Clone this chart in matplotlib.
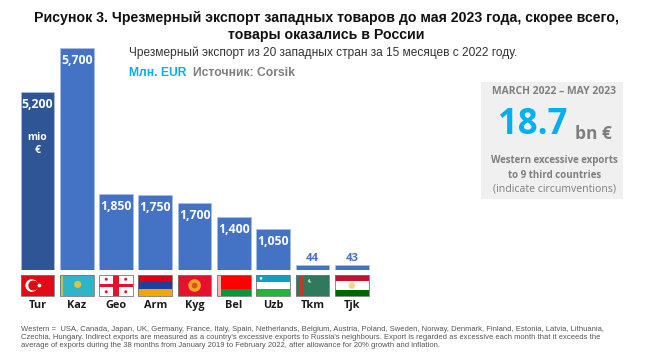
import matplotlib
matplotlib.use("Agg")
import matplotlib.pyplot as plt
from matplotlib.patches import Circle, Rectangle

W, H = 662, 354

codes = ["Tur", "Kaz", "Geo", "Arm", "Kyg", "Bel", "Uzb", "Tkm", "Tjk"]
value_labels = ["5,200", "5,700", "1,850", "1,750", "1,700", "1,400", "1,050", "44", "43"]
# drawn heights as they stand in the picture (the Tur bar is shorter than its label says)
bar_heights = [4570, 5700, 1950, 1925, 1730, 1360, 1060, 128, 128]

TITLE = "Рисунок 3. Чрезмерный экспорт западных товаров до мая 2023 года, скорее всего,\nтовары оказались в России"
SUBTITLE = "Чрезмерный экспорт из 20 западных стран за 15 месяцев с 2022 году."
FOOTNOTE = (
    "Western =  USA, Canada, Japan, UK, Germany, France, Italy, Spain, Netherlands, Belgium, Austria, Poland, Sweden, Norway, Denmark, Finland, Estonia, Latvia, Lithuania,\n"
    "Czechia, Hungary. Indirect exports are measured as a country's excessive exports to Russia's neighbours. Export is regarded as excessive each month that it exceeds the\n"
    "average of exports during the 38 months from January 2019 to February 2022, after allowance for 20% growth and inflation."
)

BLUE = "#4472C4"
DARK = "#2F5597"
CYAN = "#00B0F0"
GREY = "#7F7F7F"

plt.rcParams["font.family"] = ["Liberation Sans", "DejaVu Sans"]
LABEL_FONT = ["Open Sans", "DejaVu Sans"]

fig = plt.figure(figsize=(W / 100, H / 100), dpi=100, facecolor="white")

# overlay in pixel coordinates for text and flags
ov = fig.add_axes([0, 0, 1, 1])
ov.set_xlim(0, W)
ov.set_ylim(H, 0)
ov.axis("off")

# bars
pitch = 39.3
x_left, x_right = 37.4 - pitch / 2, 37.4 + 8.5 * pitch
y_base, y_top = 270, 48
ax = fig.add_axes([x_left / W, 1 - y_base / H, (x_right - x_left) / W, (y_base - y_top) / H])
ax.set_xlim(-0.5, 8.5)
ax.set_ylim(0, 5700)
ax.axis("off")
colors = [DARK] + [BLUE] * 8
bars = ax.bar(range(len(codes)), bar_heights, width=0.855, color=colors, edgecolor="#A9BEE6", linewidth=0.5)

for i, (bar, lab) in enumerate(zip(bars, value_labels)):
    h = bar.get_height()
    if h > 500:
        ax.annotate(lab, (i, h), xytext=(0, -4.5), textcoords="offset points", ha="center", va="top",
                    color="white", fontsize=8.8, fontweight="bold", family=LABEL_FONT)
    else:
        ax.annotate(lab, (i, h), xytext=(0, 0.6), textcoords="offset points", ha="center", va="bottom",
                    color=BLUE, fontsize=8.2, fontweight="bold", family=LABEL_FONT)
ax.annotate("mio", (0, bar_heights[0]), xytext=(0, -28.5), textcoords="offset points", ha="center", va="top",
            color="white", fontsize=7.5, fontweight="bold", family=LABEL_FONT)
ax.annotate("€", (0, bar_heights[0]), xytext=(0, -38), textcoords="offset points", ha="center", va="top",
            color="white", fontsize=7.5, fontweight="bold", family=LABEL_FONT)


def stripes(x, y, w, h, cols, fracs=None):
    fracs = fracs or [1 / len(cols)] * len(cols)
    yy = y
    for c, f in zip(cols, fracs):
        ov.add_patch(Rectangle((x, yy), w, h * f, facecolor=c, edgecolor="none", zorder=3))
        yy += h * f


def draw_flag(code, x, y, w, h):
    if code == "Tur":
        stripes(x, y, w, h, ["#E30A17"])
        ov.add_patch(Circle((x + w * 0.33, y + h / 2), h * 0.3, facecolor="white", zorder=4))
        ov.add_patch(Circle((x + w * 0.38, y + h / 2), h * 0.24, facecolor="#E30A17", zorder=4))
        ov.add_patch(Circle((x + w * 0.56, y + h / 2), h * 0.09, facecolor="white", zorder=4))
    elif code == "Kaz":
        stripes(x, y, w, h, ["#2FB5C9"])
        ov.add_patch(Rectangle((x + 1.5, y), 1.5, h, facecolor="#B9C65A", zorder=4))
        ov.add_patch(Circle((x + w * 0.53, y + h * 0.45), h * 0.17, facecolor="#D9C63A", zorder=4))
    elif code == "Geo":
        stripes(x, y, w, h, ["white"])
        ov.add_patch(Rectangle((x, y + h * 0.41), w, h * 0.18, facecolor="#E8112D", zorder=4))
        ov.add_patch(Rectangle((x + w * 0.42, y), w * 0.16, h, facecolor="#E8112D", zorder=4))
        for fx in (0.21, 0.79):
            for fy in (0.2, 0.8):
                ov.add_patch(Circle((x + w * fx, y + h * fy), 1.5, facecolor="#E8112D", zorder=4))
    elif code == "Arm":
        stripes(x, y, w, h, ["#D90012", "#1F3FA0", "#F2A800"])
    elif code == "Kyg":
        stripes(x, y, w, h, ["#E8112D"])
        ov.add_patch(Circle((x + w / 2, y + h / 2), h * 0.3, facecolor="#F5A623", zorder=4))
        ov.add_patch(Circle((x + w / 2, y + h / 2), h * 0.14, facecolor="#D9531E", zorder=4))
    elif code == "Bel":
        stripes(x, y, w, h, ["#FF0000", "#009A3D"], [0.66, 0.34])
        ov.add_patch(Rectangle((x, y), w * 0.11, h, facecolor="#F2B5B5", zorder=4))
    elif code == "Uzb":
        stripes(x, y, w, h, ["#0FA0BE", "#E8C8C8", "white", "#E8C8C8", "#1EB53A"], [0.33, 0.02, 0.3, 0.02, 0.33])
        ov.add_patch(Circle((x + w * 0.14, y + h * 0.16), 1.3, facecolor="white", zorder=4))
    elif code == "Tkm":
        stripes(x, y, w, h, ["#2F7A5C"])
        ov.add_patch(Rectangle((x + w * 0.12, y), w * 0.14, h, facecolor="#C0392B", zorder=4))
        ov.add_patch(Circle((x + w * 0.42, y + h * 0.28), 1.7, facecolor="#DDE8E0", zorder=4))
        ov.add_patch(Circle((x + w * 0.46, y + h * 0.25), 1.5, facecolor="#2F7A5C", zorder=4))
    elif code == "Tjk":
        stripes(x, y, w, h, ["#C8102E", "white", "#006600"], [0.29, 0.42, 0.29])
        ov.add_patch(Circle((x + w / 2, y + h / 2), h * 0.16, facecolor="#F4D58D", zorder=4))
    ov.add_patch(Rectangle((x, y), w, h, facecolor="none", edgecolor="#777777", linewidth=0.6, zorder=5))


for i, code in enumerate(codes):
    cx = 37.4 + pitch * i
    draw_flag(code, cx - 16.8, 275, 33.6, 21)
    ov.text(cx, 305.5, code, ha="center", va="center", fontsize=7.8, fontweight="bold",
            color="#1a1a1a", family=LABEL_FONT)

# heading
ov.text(326, 26.5, TITLE, ha="center", va="center", fontsize=10.2, fontweight="bold", color="#111111", linespacing=1.2)
ov.text(129, 52.5, SUBTITLE, ha="left", va="center", fontsize=8.6, color="#333333")
ov.text(129, 72.5, "Млн. EUR", ha="left", va="center", fontsize=8.7, fontweight="bold", color=CYAN)
ov.text(193, 72.5, "Источник: Corsik", ha="left", va="center", fontsize=8.7, fontweight="bold", color=GREY)

# summary box
ov.add_patch(Rectangle((481, 82), 142, 117, facecolor="#F0F0F0", edgecolor="none"))
ov.text(554.5, 92, "MARCH 2022 – MAY 2023", ha="center", va="center", fontsize=7.5, fontweight="bold",
        color=GREY, family=LABEL_FONT)
ov.text(498, 125, "18.7", ha="left", va="center", fontsize=25, fontweight="bold", color=CYAN, family=LABEL_FONT)
ov.text(575, 134, "bn €", ha="left", va="center", fontsize=12.5, fontweight="bold", color=GREY, family=LABEL_FONT)
ov.text(554.5, 160.7, "Western excessive exports", ha="center", va="center", fontsize=7.0, fontweight="bold",
        color=GREY, family=LABEL_FONT)
ov.text(554.5, 175, "to 9 third countries", ha="center", va="center", fontsize=7.0, fontweight="bold",
        color=GREY, family=LABEL_FONT)
ov.text(554.5, 189, "(indicate circumventions)", ha="center", va="center", fontsize=7.6,
        color=GREY, family=LABEL_FONT)

# footnote
ov.text(21, 337.5, FOOTNOTE, ha="left", va="center", fontsize=5.5, color="#555555", linespacing=1.27)

fig.savefig("out.png", dpi=100, facecolor="white")
